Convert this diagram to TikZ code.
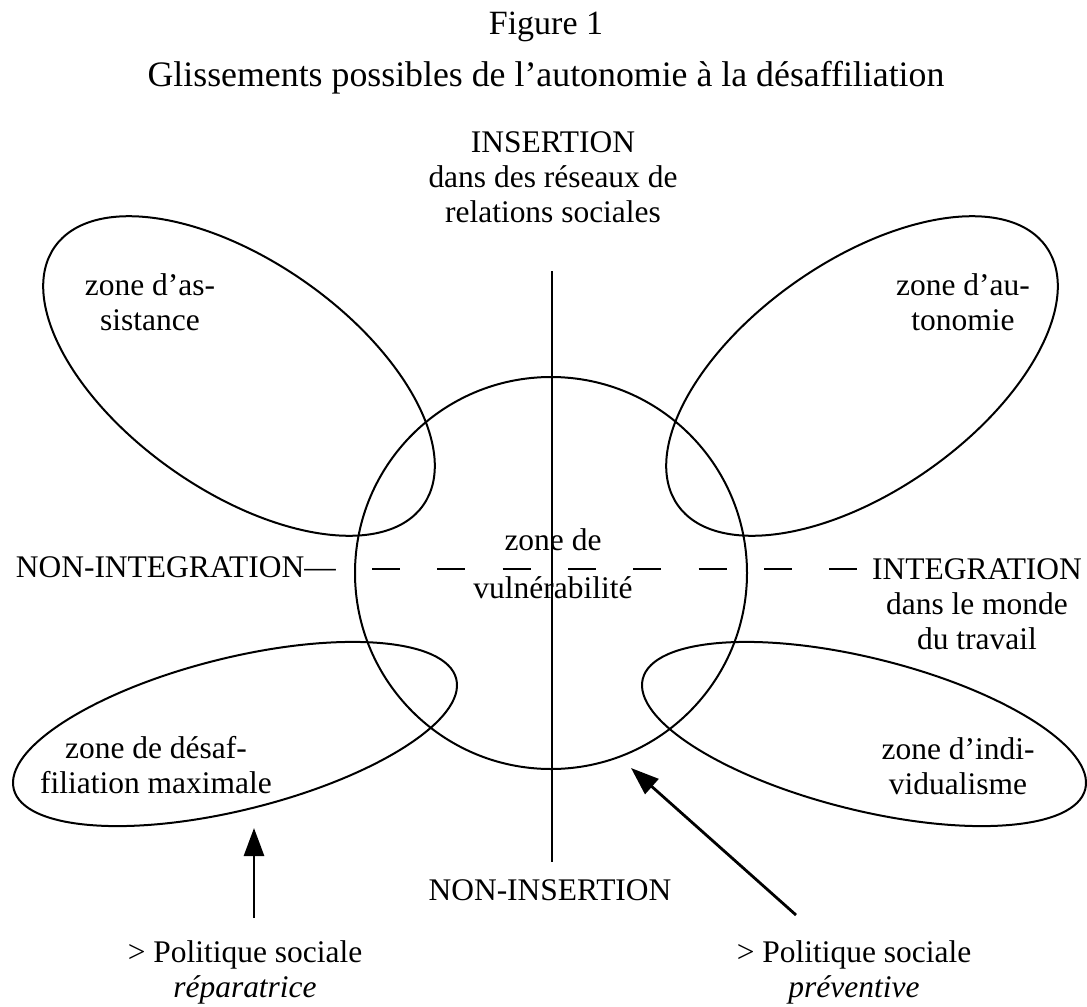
\documentclass[tikz,border=0pt]{standalone}
\usepackage{fontspec}
\setmainfont{Liberation Serif}
\usetikzlibrary{arrows.meta,shapes.geometric}
\begin{document}
\begin{tikzpicture}[x=0.75pt,y=-0.75pt,
  lbl/.style={font=\fontsize{23.6}{26.25}\selectfont, inner sep=0pt, align=center, anchor=base},
  ttl/.style={font=\fontsize{25.5}{30}\selectfont, inner sep=0pt, anchor=base},
  zone/.style={draw, ellipse, line width=1.5pt, inner sep=0pt},
  vzone/.style={draw, circle, line width=1.5pt, inner sep=0pt},
  rule/.style={line width=1.5pt},
  pol/.style={line width=2.1pt, -{Triangle[length=21pt,width=15pt]}}
]
\path[fill=white, use as bounding box] (0,0) rectangle (1087,1006);

% titles (anchor = baseline)
\node[ttl] (fig) at (546,35) {Figure 1};
\node[ttl, font=\fontsize{26.85}{30}\selectfont] (sub) at (546,86) {Glissements possibles de l’autonomie à la désaffiliation};

% shapes
\node[zone, minimum width=337.5pt, minimum height=172.5pt, rotate=-35] (za) at (239,376) {};
\node[zone, minimum width=337.5pt, minimum height=172.5pt, rotate=35] (zau) at (862,376) {};
\node[vzone, minimum size=294pt] (zv) at (551,573) {};
\node[zone, minimum width=342pt, minimum height=114pt, rotate=14] (zd) at (235,734) {};
\node[zone, minimum width=342pt, minimum height=114pt, rotate=-14] (zi) at (864,734) {};

% axes
\coordinate (vt) at (552,271);
\coordinate (vb) at (552,862);
\draw[rule] (vt) -- (vb);
\coordinate (dl) at (372,569);
\coordinate (dr) at (858,569);
\draw[rule, dash pattern=on 21pt off 28pt] (dl) -- (dr);

% labels (anchor base = baseline of the last line)
\node[lbl] (ins) at (553,222) {INSERTION\\dans des réseaux de\\relations sociales};
\node[lbl] (tas) at (150,330) {zone d’as-\\sistance};
\node[lbl] (tau) at (963,330) {zone d’au-\\tonomie};
\node[lbl] (tv) at (553,598) {zone de\\[9.75pt]vulnérabilité};
\node[lbl, anchor=base east] (nonint) at (336,577) {NON-INTEGRATION—};
\node[lbl] (int) at (977,649) {INTEGRATION\\dans le monde\\du travail};
\node[lbl] (tdes) at (156,793) {zone de désaf-\\filiation maximale};
\node[lbl] (tind) at (958,794) {zone d’indi-\\vidualisme};
\node[lbl] (nonins) at (550,900) {NON-INSERTION};
\node[lbl] (prep) at (245,997) {> Politique sociale\\\textit{réparatrice}};
\node[lbl] (prev) at (854,997) {> Politique sociale\\\textit{préventive}};

% arrows
\coordinate (a1s) at (254,918);
\coordinate (a1e) at (254,828);
\draw[pol] (a1s) -- (a1e);
\coordinate (a2s) at (796,915);
\coordinate (a2e) at (631,768);
\draw[pol] (a2s) -- (a2e);
\end{tikzpicture}
\end{document}
